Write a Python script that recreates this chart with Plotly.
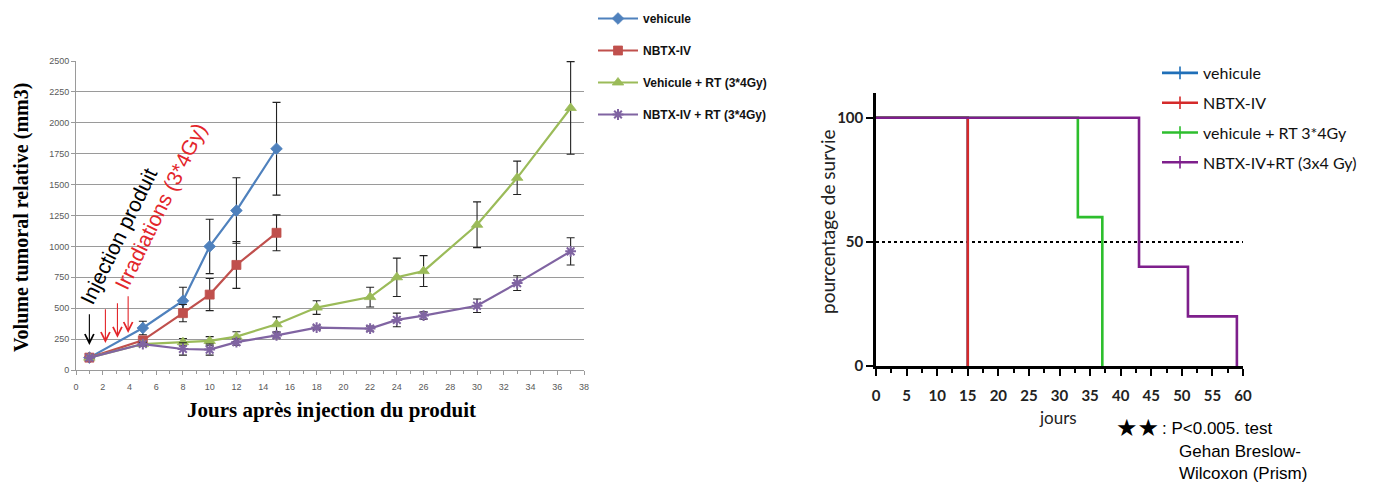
import plotly.graph_objects as go

# The page body has an 8px margin, so the figure is drawn 8px smaller and
# positions below are given in window pixels, then converted.
OFF = 8
W, H = 1375 - OFF, 484 - OFF

# ---------------- Left chart data ----------------
series_names = ["vehicule", "NBTX-IV", "Vehicule + RT (3*4Gy)", "NBTX-IV + RT (3*4Gy)"]
days_short = [1, 5, 8, 10, 12, 15]
days_long = [1, 5, 8, 10, 12, 15, 18, 22, 24, 26, 30, 33, 37]

vehicule_vol = [100, 340, 560, 1000, 1290, 1790]
vehicule_err = [0, 55, 110, 220, 265, 375]
nbtx_vol = [100, 240, 460, 610, 850, 1110]
nbtx_err = [0, 25, 70, 130, 190, 145]
veh_rt_vol = [100, 210, 225, 235, 270, 370, 505, 590, 750, 800, 1175, 1555, 2120]
veh_rt_err = [0, 20, 30, 35, 40, 60, 55, 80, 155, 125, 185, 135, 375]
nbtx_rt_vol = [100, 210, 170, 165, 225, 280, 343, 335, 405, 440, 520, 703, 960]
nbtx_rt_err = [0, 15, 50, 45, 25, 20, 15, 20, 55, 30, 55, 60, 110]

left_colors = ["#4F81BD", "#C0504D", "#9BBB59", "#8064A2"]
left_symbols = ["diamond", "square", "triangle-up", "asterisk-open"]

# ---------------- Right chart data (Kaplan-Meier) ----------------
km_names = ["vehicule", "NBTX-IV", "vehicule + RT 3*4Gy", "NBTX-IV+RT (3x4 Gy)"]
km_days = [
    [0, 15, 15],
    [0, 15, 15],
    [0, 33, 33, 37, 37],
    [0, 43, 43, 51, 51, 59, 59],
]
km_surv = [
    [100, 100, 0],
    [100, 100, 0],
    [100, 100, 60, 60, 0],
    [100, 100, 40, 40, 20, 20, 0],
]
km_colors = ["#1F6FB8", "#D42A2A", "#2DBE2D", "#7E1F8C"]

fig = go.Figure()

# ---- Left traces ----
left_data = [
    (days_short, vehicule_vol, vehicule_err),
    (days_short, nbtx_vol, nbtx_err),
    (days_long, veh_rt_vol, veh_rt_err),
    (days_long, nbtx_rt_vol, nbtx_rt_err),
]
for i, (xs, ys, es) in enumerate(left_data):
    sym = left_symbols[i]
    marker = dict(symbol=sym, size=9 if i != 2 else 10, color=left_colors[i],
                  line=dict(width=2 if "asterisk" in sym else 0.8,
                            color=left_colors[i]))
    fig.add_trace(go.Scatter(
        x=xs, y=ys, name=series_names[i], mode="lines+markers",
        line=dict(color=left_colors[i], width=2.2),
        marker=marker,
        error_y=dict(type="data", array=es, visible=True, color="#222222",
                     thickness=1.1, width=4),
        xaxis="x", yaxis="y", legend="legend", legendgroup=f"l{i}",
    ))

# ---- Right traces ----
for i in range(4):
    fig.add_trace(go.Scatter(
        x=km_days[i], y=km_surv[i], mode="lines", showlegend=False,
        line=dict(color=km_colors[i], width=2.6, shape="linear"),
        xaxis="x2", yaxis="y2",
    ))
for i in range(4):
    fig.add_trace(go.Scatter(
        x=[None], y=[None], name=km_names[i], mode="lines+markers",
        line=dict(color=km_colors[i], width=2.6),
        marker=dict(symbol="line-ns-open", size=9,
                    line=dict(width=1.6, color=km_colors[i])),
        xaxis="x2", yaxis="y2", legend="legend2", legendgroup=f"r{i}",
    ))

def px(x):
    return (x - OFF) / W

def py(y):
    return 1 - (y - OFF) / H

grid_grey = "#9a9a9a"
tick_font = dict(family="Liberation Sans", size=9, color="#595959")
km_tick_font = dict(family="Lato", size=15, color="#222222", weight="bold")

fig.update_layout(
    width=W, height=H,
    margin=dict(l=0, r=0, t=0, b=0, autoexpand=False),
    paper_bgcolor="white", plot_bgcolor="white",
    xaxis=dict(domain=[px(76), px(584)], range=[0, 38], dtick=2, tick0=0,
               showgrid=False, zeroline=False, showline=True,
               linecolor=grid_grey, linewidth=1,
               ticks="outside", ticklen=4, tickcolor=grid_grey,
               minor=dict(dtick=1, ticks="outside", ticklen=3, tickcolor=grid_grey),
               tickfont=tick_font, ticklabelstandoff=4,
               anchor="y", automargin=False),
    yaxis=dict(domain=[py(370), py(61)], range=[0, 2500], dtick=250, tick0=0,
               showgrid=True, gridcolor=grid_grey, gridwidth=1,
               zeroline=False, showline=True, linecolor=grid_grey,
               ticks="outside", ticklen=4, tickcolor=grid_grey,
               tickfont=tick_font, anchor="x", automargin=False),
    xaxis2=dict(domain=[px(876), px(1243)], range=[0, 60], dtick=5, tick0=0,
                showgrid=False, zeroline=False, showline=True,
                linecolor="black", linewidth=2.5,
                ticks="outside", ticklen=7, tickwidth=2, tickcolor="black",
                minor=dict(dtick=2.5, ticks="outside", ticklen=4, tickwidth=2,
                           tickcolor="black"),
                tickfont=km_tick_font, ticklabelstandoff=7,
                anchor="y2", automargin=False),
    yaxis2=dict(domain=[py(366), py(93)], range=[0, 110],
                tickvals=[0, 50, 100],
                showgrid=False, zeroline=False, showline=True,
                linecolor="black", linewidth=2.5,
                ticks="outside", ticklen=7, tickwidth=2, tickcolor="black",
                tickfont=km_tick_font, anchor="x2", automargin=False),
    legend=dict(x=px(593), y=py(4), xanchor="left", yanchor="top",
                font=dict(family="Liberation Sans", size=12, color="#111111",
                          weight="bold"),
                tracegroupgap=13, bgcolor="rgba(0,0,0,0)", itemwidth=40),
    legend2=dict(x=px(1157), y=py(56), xanchor="left", yanchor="top",
                 font=dict(family="Lato", size=16, color="#111111"),
                 tracegroupgap=6, bgcolor="rgba(0,0,0,0)", itemwidth=36),
    shapes=[dict(type="line", xref="x2", yref="y2", x0=0, x1=60, y0=50, y1=50,
                 line=dict(color="black", width=2, dash="dot"), layer="below")],
)

def ann(text, x, y, size, family, color="black", angle=0, weight="normal",
        xanchor="center", yanchor="middle", ref="paper", align="center"):
    return dict(text=text, x=x, y=y, xref=ref if ref == "paper" else "x2",
                yref=ref if ref == "paper" else "y2",
                textangle=angle, showarrow=False, xanchor=xanchor,
                yanchor=yanchor, align=align,
                font=dict(family=family, size=size, color=color, weight=weight))

annotations = [
    ann("Volume tumoral relative (mm3)", px(21), py(218), 20, "Liberation Serif",
        angle=-90, weight="bold"),
    ann("Jours après injection du produit", px(331), py(410), 21,
        "Liberation Serif", weight="bold"),
    ann("Injection produit", px(118), py(236), 21, "Liberation Sans", angle=-64),
    ann("Irradiations (3*4Gy)", px(160), py(206), 21, "Liberation Sans",
        color="#E3262B", angle=-64),
    ann("pourcentage de survie", px(828), py(222), 19, "Lato", color="#222222",
        angle=-90),
    ann("jours", px(1058), py(417), 17, "Lato", color="#222222"),
    ann("★★", 60.6, 27.5, 24, "DejaVu Sans", ref="xy2"),
    ann("★★", px(1161), py(428), 24, "DejaVu Sans", xanchor="right"),
    ann(": P<0.005. test", px(1160), py(428), 17, "Liberation Sans",
        xanchor="left"),
    ann("Gehan Breslow-<br>Wilcoxon (Prism)", px(1177), py(440), 17,
        "Liberation Sans", xanchor="left", yanchor="top", align="left"),
]

# arrows: injection (black) and irradiations (red)
arrow_specs = [
    (1.0, 203, 463, "black"),
    (2.2, 219, 503, "#E3262B"),
    (3.1, 260, 552, "#E3262B"),
    (3.9, 300, 609, "#E3262B"),
]
for xd, tip, tail, col in arrow_specs:
    annotations.append(dict(
        x=xd, y=tip, ax=xd, ay=tail, xref="x", yref="y", axref="x", ayref="y",
        text="", showarrow=True, arrowhead=5, arrowsize=1.6, arrowwidth=1.1,
        arrowcolor=col))

fig.update_layout(annotations=annotations)

fig.write_html("out.html")
